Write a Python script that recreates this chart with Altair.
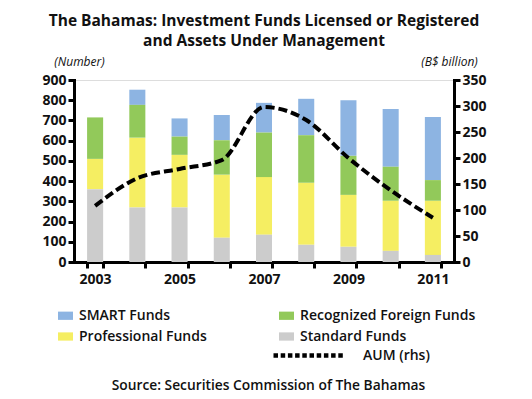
import altair as alt
import pandas as pd

years = [2003, 2004, 2005, 2006, 2007, 2008, 2009, 2010, 2011]
standard = [360, 270, 270, 120, 135, 85, 75, 55, 35]
professional = [150, 345, 260, 312, 285, 307, 257, 248, 268]
recognized = [205, 162, 90, 170, 220, 235, 193, 168, 102]
smart = [0, 75, 90, 125, 147, 180, 275, 286, 312]
aum = [108, 161, 179, 196, 298, 273, 200, 138, 85]

series_names = ["SMART Funds", "Professional Funds", "Recognized Foreign Funds", "Standard Funds"]
series_colors = ["#8db4e2", "#f5ee62", "#92c95a", "#cccccc"]
stack_rank = {"Standard Funds": 0, "Professional Funds": 1, "Recognized Foreign Funds": 2, "SMART Funds": 3}
series_values = {
    "SMART Funds": smart,
    "Recognized Foreign Funds": recognized,
    "Professional Funds": professional,
    "Standard Funds": standard,
}

rows = []
for name in series_names:
    for y, v in zip(years, series_values[name]):
        rows.append({"year": y, "series": name, "value": v, "rank": stack_rank[name]})
bars_df = pd.DataFrame(rows)
line_df = pd.DataFrame({"year": years, "aum": aum, "series": "AUM (rhs)"})

FONT = "Open Sans"
TEXT_W = 600

x_enc = alt.X(
    "year:O",
    scale=alt.Scale(paddingInner=0.62, paddingOuter=0.31),
    axis=alt.Axis(
        title="Source: Securities Commission of The Bahamas",
        titleFont=FONT, titleFontSize=13.8, titleFontWeight=TEXT_W, titleColor="#111111",
        titleX=194, titleY=123, titleAnchor="middle", titleBaseline="middle",
        labelExpr="datum.value % 2 == 1 ? datum.label : ''",
        labelAngle=0, labelFont=FONT, labelFontSize=14, labelFontWeight="bold",
        labelColor="#111111", labelPadding=4,
        tickBand="extent", tickSize=6, tickWidth=3, tickColor="black",
        domainWidth=3, domainColor="black", domainCap="square",
    ),
)

bars = alt.Chart(bars_df).mark_bar().encode(
    x=x_enc,
    y=alt.Y(
        "value:Q", stack="zero",
        scale=alt.Scale(domain=[0, 900], nice=False),
        axis=alt.Axis(
            values=list(range(0, 1000, 100)), orient="left",
            title="(Number)", titleAngle=0, titleX=5, titleY=-12, titleAlign="center",
            titleFont=FONT, titleFontSize=12, titleFontStyle="italic", titleFontWeight="normal",
            titleColor="#111111",
            labelFont=FONT, labelFontSize=14, labelFontWeight="bold", labelColor="#111111",
            labelPadding=2, tickSize=6, tickWidth=3, tickColor="black",
            domainWidth=3, domainColor="black", domainCap="square", grid=False,
        ),
    ),
    color=alt.Color(
        "series:N",
        scale=alt.Scale(domain=series_names, range=series_colors),
        legend=alt.Legend(
            title=None, orient="none", legendX=-16, legendY=228, columns=2,
            columnPadding=72, rowPadding=6, padding=0, labelLimit=300,
            symbolType="M-1,-0.55H1V0.55H-1Z", symbolSize=225, symbolStrokeWidth=0,
            labelFont=FONT, labelFontSize=14, labelFontWeight=TEXT_W,
            labelColor="#111111", labelOffset=6,
        ),
    ),
    order=alt.Order("rank:Q", sort="ascending"),
)

line = alt.Chart(line_df).mark_line(
    color="black", strokeWidth=4, strokeDash=[9, 4], interpolate="monotone"
).encode(
    x=alt.X("year:O"),
    y=alt.Y(
        "aum:Q",
        scale=alt.Scale(domain=[0, 350], nice=False),
        axis=alt.Axis(
            values=list(range(0, 400, 50)), orient="right",
            title="(B$ billion)", titleAngle=0, titleX=-5, titleY=-12, titleAlign="center",
            titleFont=FONT, titleFontSize=12, titleFontStyle="italic", titleFontWeight="normal",
            titleColor="#111111",
            labelFont=FONT, labelFontSize=14, labelFontWeight="bold", labelColor="#111111",
            labelPadding=2, tickSize=6, tickWidth=3, tickColor="black",
            domainWidth=3, domainColor="black", domainCap="square", grid=False,
        ),
    ),
)

legend_layer = alt.Chart(line_df).transform_filter("false").mark_line(
    color="black", strokeWidth=4.5
).encode(
    x=alt.X("year:O"),
    y=alt.Y("aum:Q", axis=None),
    strokeDash=alt.StrokeDash(
        "series:N",
        scale=alt.Scale(domain=["AUM (rhs)"], range=[[4.5, 2.7]]),
        legend=alt.Legend(
            title=None, orient="none", legendX=197, legendY=237, padding=0,
            symbolType="stroke", symbolSize=5184, symbolStrokeWidth=4.5,
            symbolStrokeColor="black",
            labelFont=FONT, labelFontSize=14, labelFontWeight=TEXT_W,
            labelColor="#111111", labelOffset=15,
        ),
    ),
)

chart = alt.layer(bars, line, legend_layer).resolve_scale(
    y="independent", color="independent", strokeDash="independent"
).properties(
    width=380,
    height=182,
    padding={"left": 66, "top": 72, "right": 70, "bottom": 135},
    autosize=alt.AutoSizeParams(type="none"),
    title=alt.TitleParams(
        text=["The Bahamas: Investment Funds Licensed or Registered", "and Assets Under Management"],
        font=FONT, fontSize=15.5, fontWeight="bold", color="#111111",
        anchor="middle", frame="group", offset=6, lineHeight=20,
    ),
).configure_view(stroke=None).configure(background="white")

chart.save("out.html", embed_options={"renderer": "svg", "actions": False})
